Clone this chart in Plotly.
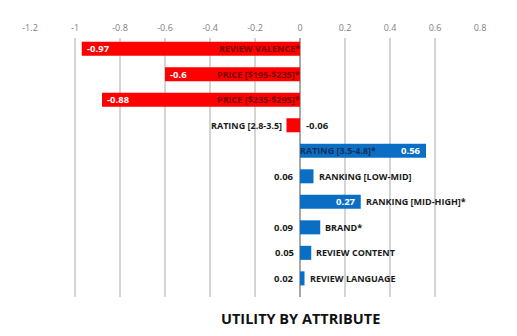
import plotly.graph_objects as go

# Attribute utilities (part-worths)
categories = [
    "REVIEW VALENCE*",
    "PRICE [$195-$235]*",
    "PRICE [$235-$295]*",
    "RATING [2.8-3.5]",
    "RATING [3.5-4.8]*",
    "RANKING [LOW-MID]",
    "RANKING [MID-HIGH]*",
    "BRAND*",
    "REVIEW CONTENT",
    "REVIEW LANGUAGE",
]
utilities = [-0.97, -0.6, -0.88, -0.06, 0.56, 0.06, 0.27, 0.09, 0.05, 0.02]
x_ticks = [-1.2, -1, -0.8, -0.6, -0.4, -0.2, 0, 0.2, 0.4, 0.6, 0.8]
chart_title = "UTILITY BY ATTRIBUTE"

RED, BLUE = "#FF0000", "#0A6FC4"
RED_DARK, BLUE_DARK = "#7A0000", "#12305A"
FONT = "Open Sans"

colors = [RED if v < 0 else BLUE for v in utilities]

fig = go.Figure(
    go.Bar(
        x=utilities,
        y=categories,
        orientation="h",
        marker=dict(color=colors, line=dict(width=0)),
        hoverinfo="skip",
    )
)

def fmt(v):
    return f"{v:g}"

annotations = []
for cat, v in zip(categories, utilities):
    sign = 1 if v > 0 else -1
    # value label: inside the bar end for long bars, across the axis for short ones
    if abs(v) > 0.2:
        annotations.append(dict(
            x=v, y=cat, xref="x", yref="y", text=fmt(v), showarrow=False,
            xanchor="right" if sign > 0 else "left", xshift=-3 * sign,
            font=dict(family=FONT, size=9.5, color="white", weight="bold"),
        ))
    else:
        annotations.append(dict(
            x=0, y=cat, xref="x", yref="y", text=fmt(v), showarrow=False,
            xanchor="left" if sign < 0 else "right", xshift=4 * -sign,
            font=dict(family=FONT, size=9.5, color="#1A1A1A", weight="bold"),
        ))
    # category label: inside near the axis for long bars, past the bar end otherwise
    if abs(v) > 0.4:
        annotations.append(dict(
            x=0, y=cat, xref="x", yref="y", text=cat, showarrow=False,
            xanchor="right" if sign < 0 else "left", xshift=2 * -sign,
            font=dict(family=FONT, size=9,
                      color=RED_DARK if sign < 0 else BLUE_DARK, weight="bold"),
        ))
    else:
        annotations.append(dict(
            x=v, y=cat, xref="x", yref="y", text=cat, showarrow=False,
            xanchor="left" if sign > 0 else "right", xshift=3 * sign,
            font=dict(family=FONT, size=9, color="#1A1A1A", weight="bold"),
        ))

# chart title below the plot area
annotations.append(dict(
    x=(300 - 30) / 450, y=-(318 - 297) / 259, xref="paper", yref="paper",
    text=chart_title, showarrow=False, xanchor="center", yanchor="middle",
    font=dict(family=FONT, size=14.5, color="#111111", weight="bold"),
))

fig.update_layout(
    width=517, height=336,
    margin=dict(l=30, r=37, t=38, b=39),
    paper_bgcolor="white", plot_bgcolor="white",
    showlegend=False,
    bargap=0.45,
    annotations=annotations,
    xaxis=dict(
        range=[-1.2, 0.8], side="top", tickvals=x_ticks,
        ticktext=[fmt(t) for t in x_ticks],
        showgrid=True, gridcolor="#D4D4D4", gridwidth=1.5,
        zeroline=True, zerolinecolor="#A8A8A8", zerolinewidth=1.5,
        showline=False, ticks="", ticklen=0, ticklabelstandoff=4,
        tickfont=dict(family=FONT, size=9, color="#808080"),
        fixedrange=True,
    ),
    yaxis=dict(
        categoryorder="array", categoryarray=categories,
        range=[9.73, -0.42], showticklabels=False, showgrid=False,
        zeroline=False, showline=False, ticks="", fixedrange=True,
    ),
)

fig.write_html("out.html", config=dict(displayModeBar=False))
